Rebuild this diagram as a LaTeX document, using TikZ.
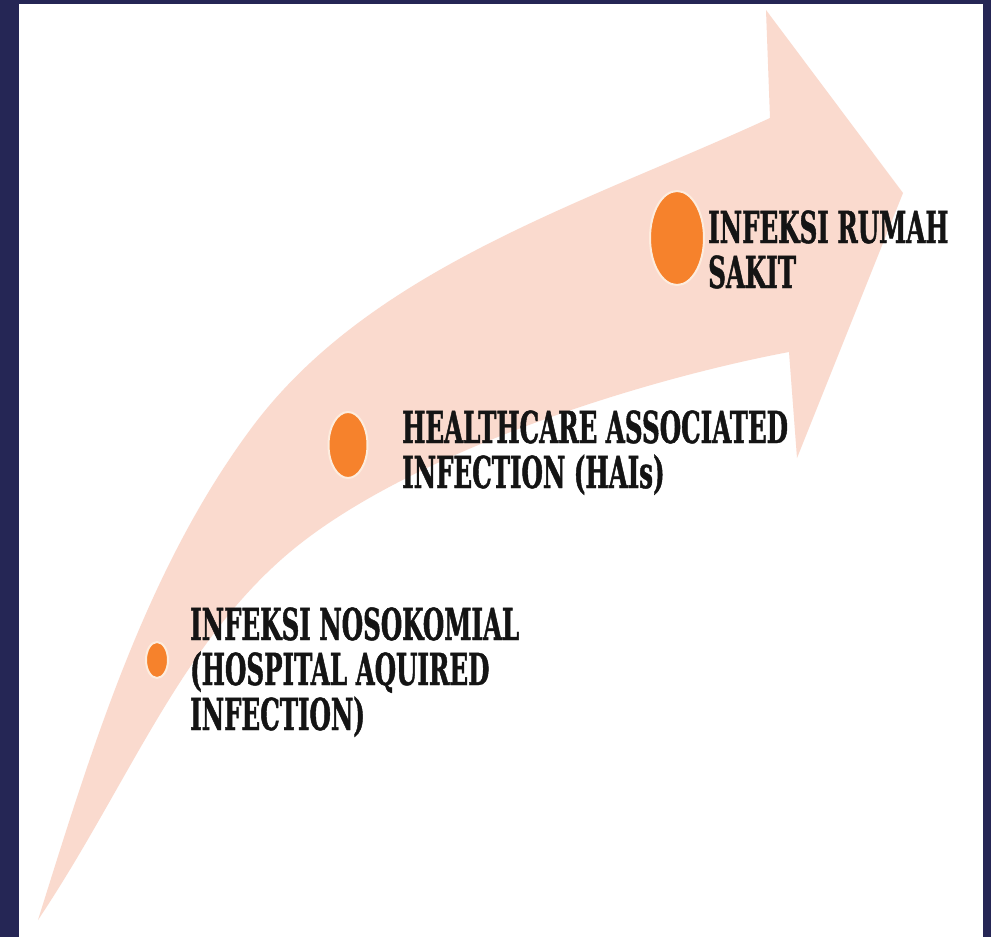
\documentclass[tikz,border=0pt]{standalone}
\usepackage{fontspec}
\usetikzlibrary{shapes.geometric}
\newfontfamily\lblfont{DejaVu Serif Condensed Bold}[FakeStretch=0.62,FakeBold=1]
\definecolor{frame}{RGB}{37,38,85}
\definecolor{arrowpink}{RGB}{250,218,206}
\definecolor{dotorange}{RGB}{246,130,44}
\definecolor{dotring}{RGB}{253,236,222}
\definecolor{ink}{RGB}{20,20,20}

\begin{document}
\begin{tikzpicture}[x=1pt,y=-1pt,
  dot/.style={ellipse,fill=dotorange,draw=dotring,line width=2pt,inner sep=0pt},
  lbl/.style={anchor=base west,align=left,inner sep=0pt,text=ink,
    font=\lblfont\fontsize{44}{45}\selectfont}]
% frame
\fill[frame] (0,0) rectangle (991,937);
\fill[white] (19,4) rectangle (983,937);
% curved arrow
\fill[arrowpink] (38,920) .. controls (91,751) and (145,572) .. (250,430)
  .. controls (369,268) and (586,203) .. (770,118)
  -- (766,10) -- (903,193) -- (797,458) -- (789,352)
  .. controls (640,380) and (400,455) .. (283,558)
  .. controls (178,650) and (125,790) .. (38,920) -- cycle;
% dots
\node[dot,minimum width=22,minimum height=36] (c1) at (157,660) {};
\node[dot,minimum width=39,minimum height=66] (c2) at (348,445) {};
\node[dot,minimum width=54,minimum height=94] (c3) at (677,238) {};
% labels (anchored on the last line)
\node[lbl] (t1) at (190,730) {INFEKSI NOSOKOMIAL\\(HOSPITAL AQUIRED\\INFECTION)};
\node[lbl] (t2) at (402,488) {HEALTHCARE ASSOCIATED\\INFECTION (HAIs)};
\node[lbl] (t3) at (708,288) {INFEKSI RUMAH\\SAKIT};
\end{tikzpicture}
\end{document}
